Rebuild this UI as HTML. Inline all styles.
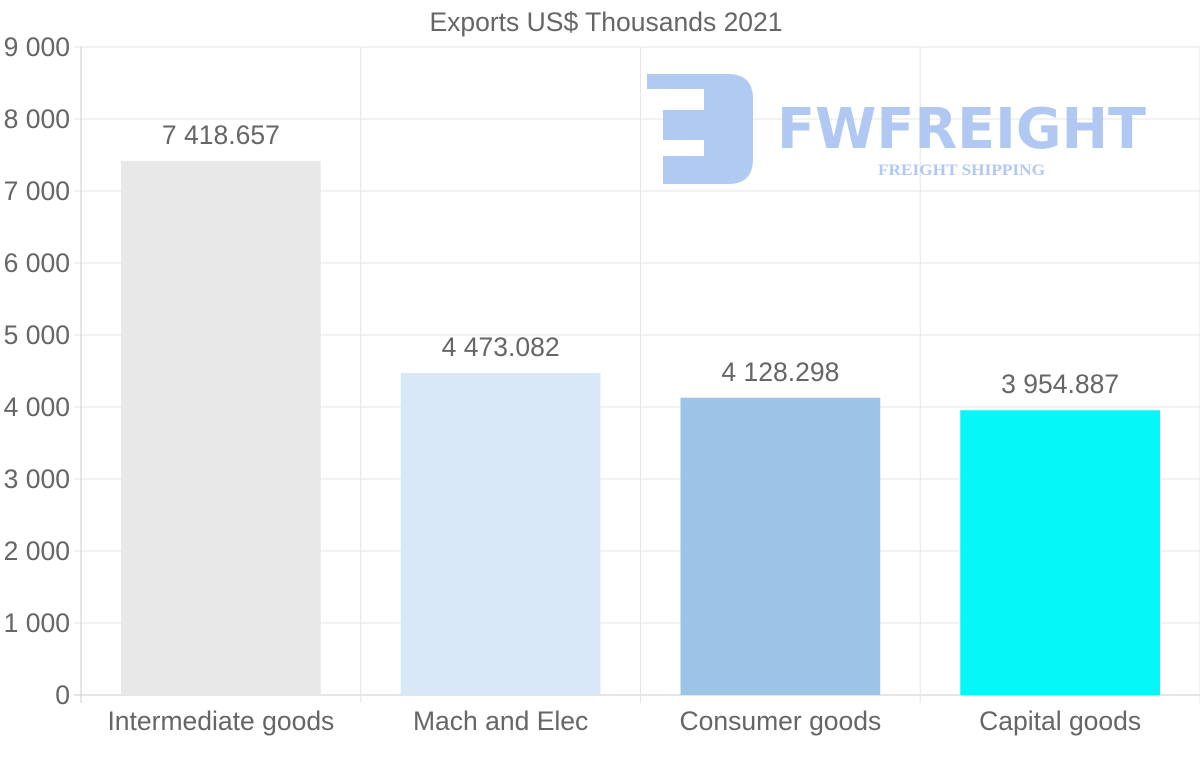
<!DOCTYPE html>
<html><head><meta charset="utf-8"><style>
html,body{margin:0;padding:0;background:#fff;width:1200px;height:763px;overflow:hidden}
text{font-family:"Liberation Sans",sans-serif}
</style></head><body>
<svg id="chart" width="1200" height="763" xmlns="http://www.w3.org/2000/svg">
<text x="606" y="31" text-anchor="middle" font-size="26.5" fill="#666">Exports US$ Thousands 2021</text>
<g id="grid"></g>
<g id="logo" fill="#a9c4f1" opacity="0.9">
<path d="M647 74 H728 Q753 74 753 99 V159 Q753 184 728 184 H663 V156 H704 V140 H663 V110 H704 V89 H647 Z"/>
<text x="777" y="148" font-size="56" font-weight="bold" textLength="369" lengthAdjust="spacingAndGlyphs" style="font-family:'DejaVu Sans',sans-serif">FWFREIGHT</text>
<text x="878" y="175" font-size="16" font-weight="bold" textLength="167" lengthAdjust="spacingAndGlyphs" style="font-family:'Liberation Serif',serif">FREIGHT SHIPPING</text>
</g>
<g id="bars"></g>
</svg>
<script>
const categories=["Intermediate goods","Mach and Elec","Consumer goods","Capital goods"];
const values=[7418.657,4473.082,4128.298,3954.887];
const valueLabels=["7 418.657","4 473.082","4 128.298","3 954.887"];
const colors=["#e8e8e8","#d8e8f9","#9cc4e6","#05f7f7"];
const ticks=[0,1000,2000,3000,4000,5000,6000,7000,8000,9000];
const tickLabels=["0","1 000","2 000","3 000","4 000","5 000","6 000","7 000","8 000","9 000"];
const NS="http://www.w3.org/2000/svg";
const L=81,R=1200,T=47,B=695,maxV=9000;
const y=v=>B-(v/maxV)*(B-T);
const bw=(R-L)/categories.length;
const x=i=>L+i*bw;
const grid=document.getElementById('grid'),bars=document.getElementById('bars');
function mk(tag,attrs,parent){const e=document.createElementNS(NS,tag);for(const k in attrs)e.setAttribute(k,attrs[k]);parent.appendChild(e);return e;}
ticks.forEach((t,i)=>{
 const ln=mk('line',{x1:74,x2:R,y1:y(t),y2:y(t),stroke:i==0?'#ccc':'#e5e5e5','stroke-width':1},grid);
 
 
 const tx=mk('text',{x:70,y:y(t)+9,'text-anchor':'end','font-size':26.5,fill:'#666'},grid);
 tx.textContent=tickLabels[i];
 
 
});
for(let i=0;i<=categories.length;i++){
 const ln=mk('line',{x1:x(i),x2:x(i),y1:T,y2:703,stroke:i==0?'#ccc':'#e5e5e5'},grid);
 
 
}
categories.forEach((c,i)=>{
 const bx=x(i)+40,w=bw-80;
 const r=mk('rect',{x:bx,y:y(values[i]),width:w,height:B-y(values[i]),fill:colors[i]},bars);
 
 
 const v=mk('text',{x:bx+w/2,y:y(values[i])-17,'text-anchor':'middle','font-size':26.5,fill:'#666'},bars);
 v.textContent=valueLabels[i];
 
 
 const t=mk('text',{x:x(i)+bw/2,y:730,'text-anchor':'middle','font-size':26.5,fill:'#666'},bars);
 t.textContent=c;
 
 
});
</script>
</body></html>
